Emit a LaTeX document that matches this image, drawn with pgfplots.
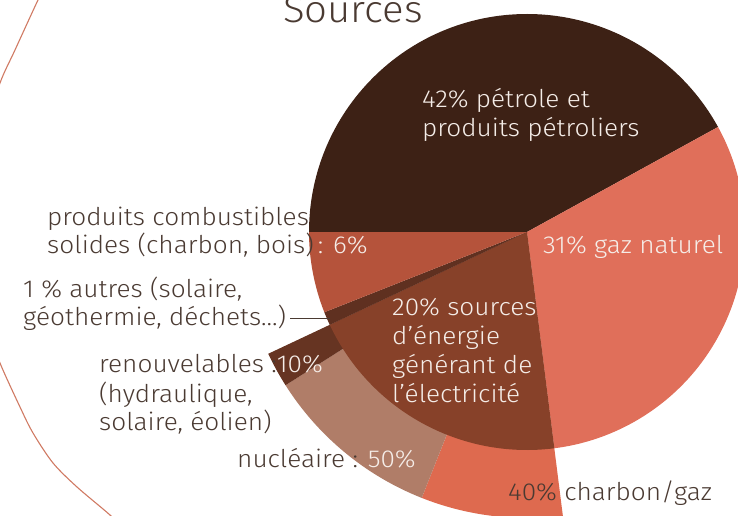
\documentclass[border=0pt]{standalone}
\usepackage{pgfplots}
\pgfplotsset{compat=1.18}
\usepackage{fontspec}
\setmainfont{Fira Sans}[UprightFont={* Light}, FakeStretch=1.07]
\definecolor{cPetrole}{HTML}{3D2115}
\definecolor{cGaz}{HTML}{E06F5A}
\definecolor{cElec}{HTML}{874129}
\definecolor{cAutres}{HTML}{5F3020}
\definecolor{cComb}{HTML}{B5533B}
\definecolor{cCharbon}{HTML}{DE6A4F}
\definecolor{cNucl}{HTML}{B07D68}
\definecolor{cRenouv}{HTML}{663422}
\definecolor{cText}{HTML}{4A3A32}
\definecolor{cWhite}{HTML}{F5EDE8}
\definecolor{cArc}{HTML}{D07A63}
% shares (percent)
\def\pPetrole{42}\def\pGaz{31}\def\pElec{20}\def\pAutres{1}\def\pComb{6}
\def\sCharbon{40}\def\sNucl{50}\def\sRenouv{10}
\pgfmathsetmacro\aA{180}
\pgfmathsetmacro\aB{\aA-\pPetrole*3.6}
\pgfmathsetmacro\aC{\aB-\pGaz*3.6}
\pgfmathsetmacro\aD{\aC-\pElec*3.6}
\pgfmathsetmacro\aE{\aD-\pAutres*3.6}
\pgfmathsetmacro\aF{\aE-\pComb*3.6}
\pgfmathsetmacro\bB{\aC-\sCharbon/100*\pElec*3.6}
\pgfmathsetmacro\bC{\bB-\sNucl/100*\pElec*3.6}
\pgfmathsetmacro\bD{\bC-\sRenouv/100*\pElec*3.6}
\newcommand{\sector}[4]{\fill[#4] (axis cs:527,283) -- ++(#1:#3pt) arc[start angle=#1, end angle=#2, radius=#3pt] -- cycle;}
\newcommand{\lab}[4][cText]{\node[anchor=base west, inner sep=0pt, text=#1, font=\fontsize{24.5}{29}\selectfont] at (axis cs:#2,#3) {#4};}
\begin{document}
\begin{tikzpicture}
\path[use as bounding box, clip] (0,0) rectangle (738pt,515pt);
\begin{axis}[at={(0pt,0pt)}, anchor=south west, scale only axis,
  width=738pt, height=515pt, xmin=0, xmax=738, ymin=0, ymax=515,
  hide axis, clip=true]
\addplot[smooth, draw=cArc, line width=1.1pt] coordinates {
 (46,530) (38,515) (15,465) (0,432) (-14,385) (-22,335) (-24,292) (-20,235)
 (-11,185) (0,152) (20,108) (33,82) (53,52) (77,28) (110,0) (122,-13)};
% outer ring: electricity breakdown
\sector{\aC}{\bB}{286}{cCharbon}
\sector{\bB}{\bC}{286}{cNucl}
\sector{\bC}{\bD}{286}{cRenouv}
% main pie
\sector{\aA}{\aB}{218}{cPetrole}
\sector{\aB}{\aC}{218}{cGaz}
\sector{\aC}{\aD}{218}{cElec}
\sector{\aD}{\aE}{218}{cAutres}
\sector{\aE}{\aF}{218}{cComb}
% title
\node[anchor=base west, inner sep=0pt, text=cText, font=\fontsize{37.5}{44}\selectfont] at (axis cs:283,492) {Sources};
% labels
\lab[cWhite]{422}{407}{42\% pétrole et}
\lab[cWhite]{422}{378}{produits pétroliers}
\lab[cWhite]{543}{262}{31\% gaz naturel}
\lab{47}{290}{produits combustibles}
\lab{47}{262}{solides (charbon, bois)\textcolor{cWhite}{\,: 6\%}}
\lab{23}{218}{1 \% autres (solaire,}
\lab{23}{190}{géothermie, déchets…)}
\draw[cText, line width=0.9pt] (axis cs:290,197) -- (axis cs:330,197);
\lab{99}{143}{renouvelables :\textcolor{cWhite}{10\%}}
\lab{99}{113}{(hydraulique,}
\lab{99}{85}{solaire, éolien)}
\lab{237}{48}{nucléaire : \textcolor{cWhite}{50\%}}
\lab[cWhite]{392}{200}{20\% sources}
\lab[cWhite]{392}{171}{d’énergie}
\lab[cWhite]{392}{142}{générant de}
\lab[cWhite]{392}{113}{l’électricité}
\lab{508}{15}{40\% charbon/gaz}
\end{axis}
\end{tikzpicture}
\end{document}
